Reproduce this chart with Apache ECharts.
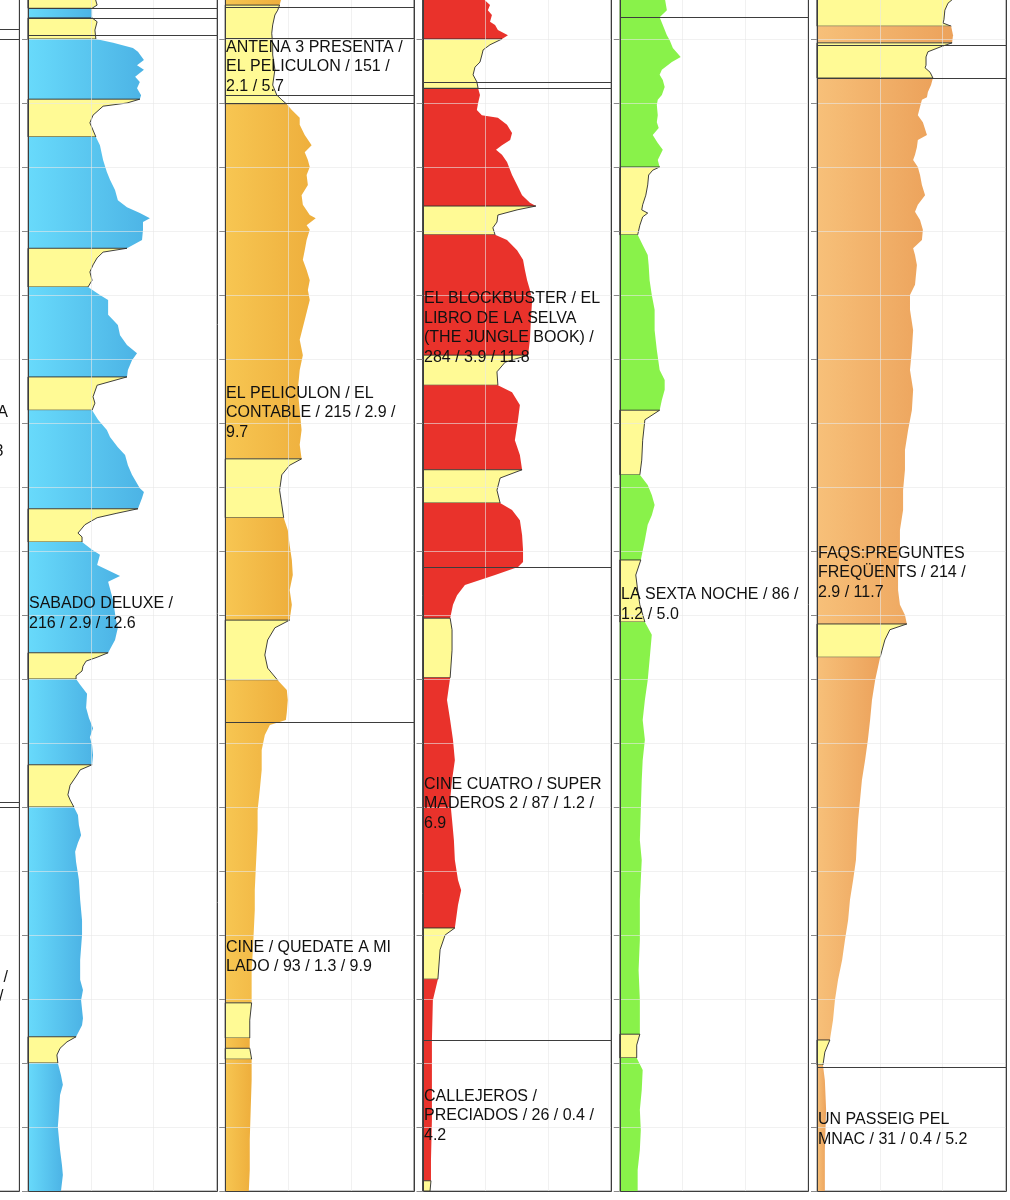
<!DOCTYPE html>
<html>
<head>
<meta charset="utf-8">
<title>Audiencias por minuto</title>
<script src="https://cdn.jsdelivr.net/npm/echarts@6/dist/echarts.min.js"></script>
<style>
  html, body { margin: 0; padding: 0; background: #fff; }
  #chart { width: 1010px; height: 1200px; }
</style>
</head>
<body>
<div id="chart"></div>
<script>
// minutes after 22:00, audience in thousands
const t5Time = [-6.5, -5.3, -4.8, -3.3, -2.7, -1.4, 0, 0.6, 1.4, 2.0,
  3.3, 4.1, 4.8, 5.9, 6.7, 7.7, 8.8, 9.4, 10.0, 10.5,
  11.9, 13.1, 13.9, 15.3, 16.6, 18.9, 20.8, 22.0, 23.6, 25.2,
  26.3, 27.2, 28.0, 28.6, 29.8, 31.4, 32.7, 33.3, 34.2, 35.3,
  36.4, 37.7, 38.75, 40.0, 40.8, 43.1, 43.9, 44.7, 46.3, 47.8,
  49.1, 50.2, 51.7, 52.8, 54.1, 55.9, 56.9, 58.0, 59.5, 61.1,
  62.2, 63.8, 65.0, 66.6, 68.1, 70.2, 70.8, 71.7, 73.4, 74.1,
  74.8, 75.9, 77.2, 77.8, 78.6, 79.8, 80.6, 82.2, 83.9, 84.8,
  87.7, 90.8, 92.0, 93.9, 95.9, 96.6, 97.2, 98.0, 98.75, 99.5,
  100, 100.9, 102.3, 104.5, 106.1, 107.7, 109.1, 110.3, 111.9, 113.4,
  114.2, 115.0, 116.6, 118.1, 118.9, 120, 121.25, 122.8, 124.4, 125.6,
  127.0, 128.6, 131.4, 134.5, 137.7, 140, 143.9, 147.0, 148.6, 150.2,
  153.0, 154.1, 155.9, 156.7, 157.7, 158.75, 160, 161.9, 163.4, 165.0,
  167.3, 170, 173.6, 175.9, 177.5, 180];
const t5Aud = [213, 220, 204, 204, 220, 213, 216, 271, 334, 350,
  369, 347, 369, 341, 356, 347, 360, 356, 315, 239,
  207, 197, 204, 216, 229, 239, 251, 261, 277, 286,
  315, 356, 388, 366, 366, 363, 315, 239, 220, 207,
  197, 204, 191, 229, 255, 255, 271, 286, 293, 315,
  347, 331, 318, 315, 220, 207, 213, 204, 223, 251,
  261, 286, 309, 318, 331, 356, 369, 363, 350, 283,
  220, 181, 159, 172, 172, 204, 229, 220, 293, 255,
  271, 280, 286, 277, 255, 220, 185, 175, 172, 153,
  153, 166, 188, 185, 194, 207, 197, 204, 207, 204,
  166, 156, 134, 127, 134, 146, 159, 162, 169, 159,
  150, 153, 162, 166, 172, 172, 166, 166, 175, 169,
  175, 172, 153, 124, 102, 92, 95, 105, 111, 102,
  99, 95, 102, 108, 111, 105];
const t5Breaks = [[-6.5, -4.8], [-3.3, 0], [9.4, 15.3], [32.7, 38.75], [52.8, 58.0],
  [73.4, 78.6], [95.9, 100], [113.4, 120], [155.9, 160]];
const t5Progs = [[-40, -4.8, ''], [-4.8, -3.3, ''], [-3.3, -0.6, ''],
  [-0.6, 180, 'SABADO DELUXE /\n216 / 2.9 / 12.6']];

const a3Time = [-6.5, -5.3, -4.5, -3.75, -2.2, -0.9, 0.9, 2.5, 4.8, 7.2,
  8.75, 9.5, 10.2, 11.1, 12.3, 13.4, 15.0, 16.6, 17.7, 18.9,
  20, 21.25, 22.8, 24.4, 25.9, 27.5, 28.0, 29.1, 29.8, 31.4,
  33.0, 34.5, 36.1, 37.7, 39.2, 40.8, 43.9, 47.0, 49.4, 51.7,
  54.8, 58.0, 61.1, 63.4, 65.6, 66.6, 68.1, 70.5, 72.8, 74.8,
  76.7, 79.1, 81.4, 83.75, 86.1, 88.4, 90.8, 92.0, 93.9, 96.25,
  98.3, 100.2, 101.7, 103.3, 105.2, 106.4, 107.2, 108.75, 111.1, 114.2,
  117.3, 120.5, 123.6, 126.7, 129.8, 133.0, 136.1, 139.2, 142.3, 145.5,
  150.6, 153.3, 156.1, 157.7, 159.4, 162.7, 167.3, 172.0, 176.7, 180];
const a3Aud = [180, 173, 167, 158, 151, 148, 151, 151, 158, 151,
  164, 180, 196, 212, 237, 237, 253, 275, 253, 263,
  269, 259, 263, 243, 247, 269, 288, 259, 269, 259,
  253, 247, 259, 269, 263, 269, 253, 237, 247, 237,
  231, 237, 243, 237, 243, 205, 180, 173, 180, 186,
  199, 205, 212, 215, 205, 212, 205, 158, 135, 126,
  135, 167, 196, 199, 196, 193, 142, 126, 116, 116,
  110, 103, 103, 100, 97, 94, 94, 91, 88, 84,
  84, 78, 78, 78, 84, 84, 81, 78, 78, 75];
const a3Breaks = [[-5.3, 10.2], [65.6, 74.8], [90.8, 100.2], [150.6, 156.1], [157.7, 159.4]];
const a3Progs = [[-40, -5.0, ''], [-5.0, -0.15, ''],
  [-0.15, 8.75, 'ANTENA 3 PRESENTA /\nEL PELICULON / 151 /\n2.1 / 5.7'],
  [8.75, 10, ''],
  [10, 106.7, 'EL PELICULON / EL\nCONTABLE / 215 / 2.9 /\n9.7'],
  [106.7, 180, 'CINE / QUEDATE A MI\nLADO / 93 / 1.3 / 9.9']];

const c4Time = [-6.5, -5.3, -4.5, -3.75, -2.7, -2.2, -1.4, -0.6, 0, 0.9,
  1.7, 2.5, 3.6, 4.4, 5.6, 6.7, 7.7, 8.75, 10, 11.1,
  11.9, 12.3, 13.4, 14.7, 15.8, 16.6, 17.3, 18.1, 19.2, 21.25,
  22.8, 24.4, 25.6, 26.1, 26.7, 27.5, 28.6, 29.5, 30.6, 31.4,
  33.0, 34.5, 36.1, 37.7, 39.2, 40.8, 43.9, 47.0, 49.4, 50.5,
  52.0, 54.1, 55.2, 57.2, 59.5, 62.7, 65.0, 67.3, 68.6, 70.5,
  72.5, 73.6, 75.2, 77.5, 79.8, 81.7, 82.5, 83.75, 85.3, 86.9,
  88.4, 90.5, 92.3, 95.5, 99.8, 103.3, 106.4, 109.5, 112.7, 115.8,
  118.9, 122.0, 125.2, 128.3, 131.4, 133.0, 135.3, 138.9, 140, 142.3,
  146.9, 150.2, 156.4, 162.7, 168.9, 175.2, 178.4, 180];
const c4Aud = [189, 215, 208, 221, 215, 231, 240, 272, 253, 215,
  193, 189, 183, 167, 161, 173, 177, 183, 177, 173,
  189, 240, 269, 285, 279, 253, 234, 253, 269, 285,
  301, 317, 342, 361, 301, 240, 237, 224, 231, 269,
  301, 320, 326, 333, 342, 349, 345, 342, 336, 263,
  237, 240, 285, 310, 304, 294, 310, 317, 247, 237,
  247, 285, 310, 317, 320, 320, 304, 231, 135, 110,
  97, 88, 94, 94, 88, 78, 88, 97, 103, 94,
  88, 94, 100, 103, 113, 123, 113, 103, 72, 56,
  49, 33, 30, 30, 30, 27, 27, 24];
const c4Breaks = [[0, 7.7], [26.1, 30.6], [49.4, 54.1], [67.3, 72.5], [90.5, 99.8],
  [138.9, 146.9], [178.4, 180]];
const c4Progs = [[-40, 6.7, ''], [6.7, 7.7, ''],
  [7.7, 82.5, 'EL BLOCKBUSTER / EL\nLIBRO DE LA SELVA\n(THE JUNGLE BOOK) /\n284 / 3.9 / 11.8'],
  [82.5, 156.4, 'CINE CUATRO / SUPER\nMADEROS 2 / 87 / 1.2 /\n6.9'],
  [156.4, 180, 'CALLEJEROS /\nPRECIADOS / 26 / 0.4 /\n4.2']];

const l6Time = [-6.5, -4.5, -3.4, -2.2, -0.6, 0.2, 1.4, 2.8, 3.6, 4.8,
  5.6, 6.4, 7.5, 8.75, 9.5, 10.3, 11.9, 13.0, 13.9, 15.0,
  16.25, 17.3, 18.9, 20, 20.5, 21.25, 22.8, 24.4, 25.9, 26.7,
  27.2, 27.8, 29.1, 30.6, 32.2, 33.75, 35.3, 37.7, 40, 42.3,
  45.5, 48.6, 51.7, 53.3, 54.8, 56.4, 58.0, 59.5, 62.7, 65.8,
  68.1, 69.7, 71.25, 72.8, 74.4, 75.9, 78.3, 81.4, 83.75, 86.1,
  88.4, 91.1, 93.1, 97.0, 100.2, 103.3, 106.4, 109.5, 112.7, 115.8,
  120.5, 125.2, 128.3, 134.5, 140.8, 145.5, 150.2, 155.5, 157.2, 159.2,
  161.1, 164.2, 167.3, 170.5, 173.6, 176.7, 180];
const l6Aud = [143, 150, 127, 137, 150, 159, 169, 194, 166, 134,
  127, 137, 143, 134, 121, 118, 121, 118, 124, 105,
  121, 137, 121, 127, 105, 92, 89, 83, 73, 70,
  89, 73, 64, 57, 73, 89, 92, 95, 102, 111,
  111, 118, 127, 143, 143, 134, 127, 80, 73, 70,
  64, 89, 102, 111, 102, 89, 80, 67, 51, 57,
  64, 80, 102, 95, 89, 80, 73, 80, 73, 70,
  67, 64, 70, 64, 64, 60, 64, 64, 54, 54,
  73, 70, 64, 67, 64, 57, 57];
const l6Breaks = [[20, 30.6], [58.0, 68.1], [81.4, 91.1], [155.5, 159.2]];
const l6Progs = [[-40, -3.4, ''], [-3.4, 180, 'LA SEXTA NOCHE / 86 /\n1.2 / 5.0']];

const tv3Time = [-6.5, -5.6, -4.5, -3.0, -2.5, -2.0, -0.6, 0.6, 1.25, 2.0,
  2.8, 4.1, 4.5, 5.2, 6.1, 7.2, 8.3, 9.1, 9.5, 10.6,
  11.9, 13.0, 15.0, 15.8, 16.9, 18.1, 18.9, 20, 21.25, 22.8,
  24.4, 25.9, 27.0, 28.3, 29.8, 31.4, 32.7, 33.75, 35.3, 38.4,
  40, 42.3, 45.5, 48.6, 51.7, 54.8, 58.0, 61.1, 64.2, 67.3,
  70.5, 73.6, 76.7, 79.8, 83.0, 86.1, 88.4, 90.0, 91.4, 92.3,
  93.9, 95.5, 96.6, 100.2, 103.3, 106.4, 109.5, 112.7, 115.8, 118.9,
  122.0, 125.2, 128.3, 131.4, 134.5, 137.7, 140.8, 143.9, 147.0, 150.2,
  153.3, 156.4, 158.3, 160.3, 162.7, 167.3, 173.6, 180];
const tv3Aud = [439, 417, 407, 404, 401, 427, 433, 430, 392, 353,
  347, 347, 344, 360, 369, 363, 353, 350, 334, 328,
  321, 337, 350, 321, 318, 312, 306, 321, 328, 334,
  344, 321, 312, 328, 337, 334, 306, 312, 318, 312,
  296, 296, 306, 302, 296, 306, 302, 290, 280, 280,
  274, 274, 264, 264, 258, 258, 264, 280, 286, 232,
  216, 207, 201, 185, 175, 169, 162, 153, 143, 137,
  131, 127, 124, 115, 105, 99, 89, 80, 67, 57,
  51, 41, 25, 19, 25, 29, 25, 25];
const tv3Breaks = [[-6.5, -2.0], [0.6, 6.1], [91.4, 96.6], [156.4, 160.3]];
const tv3Progs = [[-40, 0.9, ''], [0.9, 6.1, ''],
  [6.1, 160.6, 'FAQS:PREGUNTES\nFREQÜENTS / 214 /\n2.9 / 11.7'],
  [160.6, 180, 'UN PASSEIG PEL\nMNAC / 31 / 0.4 / 5.2']];

// panel cut off on the left edge, only its box lines show
const prevProgs = [[-40, -1.6, ''], [-1.6, 0, ''], [0, 119.2, ''], [119.2, 120, ''], [120, 180, '']];
const prevLabelBits = [['A', 413], ['3', 452], ['/', 978], ['/', 997]];

const AD_FILL = '#fffa95';
const GRID_LINE = 'rgba(232,232,232,0.6)';
const FONT = '16px "Liberation Sans", Arial, Helvetica, sans-serif';
const PANEL_W = 188.5;
const FIRST_AXIS = 28;
const STEP = 197.25;

const channels = [
  { name: 'prev', time: [], aud: [], breaks: [], progs: prevProgs, colors: null },
  { name: 'T5', time: t5Time, aud: t5Aud, breaks: t5Breaks, progs: t5Progs, colors: ['#68dafb', '#4cb3e5'] },
  { name: 'A3', time: a3Time, aud: a3Aud, breaks: a3Breaks, progs: a3Progs, colors: ['#f7c652', '#eeae3c'] },
  { name: 'C4', time: c4Time, aud: c4Aud, breaks: c4Breaks, progs: c4Progs, colors: ['#e9322b', '#e9322b'] },
  { name: 'LS', time: l6Time, aud: l6Aud, breaks: l6Breaks, progs: l6Progs, colors: ['#89f24a', '#89f24a'] },
  { name: 'TV3', time: tv3Time, aud: tv3Aud, breaks: tv3Breaks, progs: tv3Progs, colors: ['#f7c079', '#eca25b'] }
];

function splitSegments(times, breaks) {
  const segs = [];
  let cur = times[0];
  const end = times[times.length - 1];
  breaks.forEach(([a, b]) => {
    if (a > cur) segs.push([cur, a, 0]);
    segs.push([Math.max(a, cur), b, 1]);
    cur = b;
  });
  if (cur < end) segs.push([cur, end, 0]);
  return segs;
}

const chart = echarts.init(document.getElementById('chart'));

const series = [];
channels.forEach((ch, i) => {
  if (ch.time.length) {
    const grad = new echarts.graphic.LinearGradient(0, 0, 1, 0, [
      { offset: 0, color: ch.colors[0] },
      { offset: 1, color: ch.colors[1] }
    ]);
    series.push({
      type: 'custom',
      name: ch.name,
      xAxisIndex: i,
      yAxisIndex: i,
      z: 2,
      silent: true,
      data: splitSegments(ch.time, ch.breaks),
      renderItem: (params, api) => {
        const s = api.value(0), e = api.value(1), ad = api.value(2);
        const pts = [api.coord([0, s])];
        ch.time.forEach((t, k) => {
          if (t >= s && t <= e) pts.push(api.coord([ch.aud[k], t]));
        });
        pts.push(api.coord([0, e]));
        return {
          type: 'polygon',
          shape: { points: pts },
          style: ad
            ? { fill: AD_FILL, stroke: '#2b2b2b', lineWidth: 0.9 }
            : { fill: grad }
        };
      }
    });
  }
  series.push({
    type: 'custom',
    name: ch.name + ' programas',
    xAxisIndex: i,
    yAxisIndex: i,
    z: 5,
    silent: true,
    data: ch.progs.map(p => [p[0], p[1]]),
    renderItem: (params, api) => {
      const p0 = api.coord([0, api.value(0)]);
      const p1 = api.coord([600, api.value(1)]);
      const x0 = Math.round(p0[0]) + 0.5, x1 = Math.round(p1[0]) + 0.5;
      const y0 = Math.round(p0[1]) + 0.5, y1 = Math.round(p1[1]) + 0.5;
      const label = ch.progs[params.dataIndex][2];
      return {
        type: 'group',
        children: [
          {
            type: 'rect',
            shape: { x: x0, y: y0, width: x1 - x0, height: y1 - y0 },
            style: { fill: 'none', stroke: '#3d3d3d', lineWidth: 1 }
          },
          {
            type: 'text',
            style: {
              text: label, x: x0 + 0.5, y: (y0 + y1) / 2,
              align: 'left', verticalAlign: 'middle',
              textAlign: 'left', textVerticalAlign: 'middle',
              font: FONT, fill: '#111', lineHeight: 19.5
            }
          }
        ]
      };
    }
  });
});

chart.setOption({
  animation: false,
  backgroundColor: '#fff',
  grid: channels.map((ch, i) => ({
    left: FIRST_AXIS + STEP * (i - 1),
    top: -25,
    width: PANEL_W,
    height: 1216,
    show: true,
    backgroundColor: 'transparent',
    borderColor: '#8c8c8c',
    borderWidth: 1,
    containLabel: false,
    outerBoundsMode: 'none'
  })),
  xAxis: channels.map((ch, i) => ({
    type: 'value',
    gridIndex: i,
    min: 0,
    max: 600,
    interval: 200,
    z: 3,
    axisLine: { show: false },
    axisTick: { show: false },
    axisLabel: { show: false },
    splitLine: { show: true, lineStyle: { color: GRID_LINE, width: 1 } }
  })),
  yAxis: channels.map((ch, i) => ({
    type: 'value',
    gridIndex: i,
    inverse: true,
    min: -10,
    max: 180,
    interval: 10,
    z: 3,
    axisLine: { show: true, onZero: false, lineStyle: { color: '#4a4a4a', width: 1 } },
    axisTick: { show: true, inside: false, length: 6, lineStyle: { color: '#8a8a8a' } },
    axisLabel: { show: false },
    splitLine: { show: true, lineStyle: { color: GRID_LINE, width: 1 } }
  })),
  graphic: prevLabelBits.map(([txt, y], k) => ({
    type: 'text',
    x: k % 2 === 0 ? 8 : 3.5,
    y: y,
    z: 10,
    style: {
      text: txt, font: FONT, fill: '#111',
      align: 'right', verticalAlign: 'middle',
      textAlign: 'right', textVerticalAlign: 'middle'
    }
  })),
  series: series
});
</script>
</body>
</html>
